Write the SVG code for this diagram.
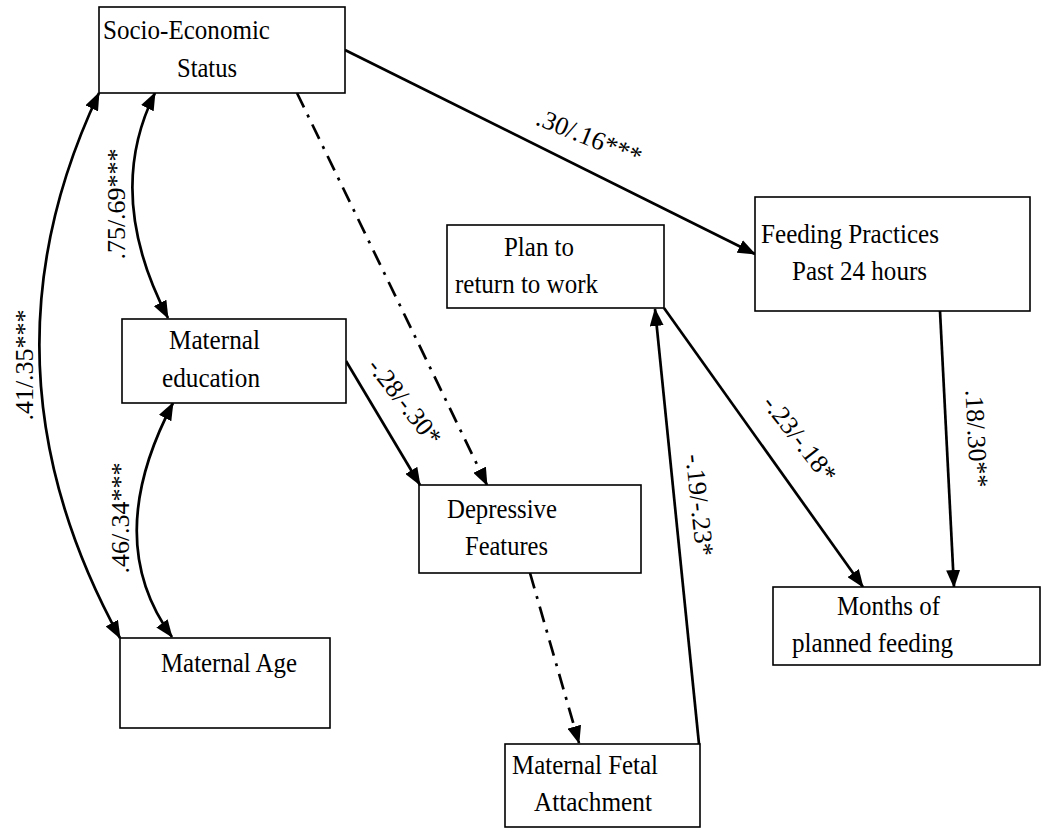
<svg xmlns="http://www.w3.org/2000/svg" width="1045" height="828" viewBox="0 0 1045 828">
<style>
.box{fill:#fff;stroke:#000;stroke-width:1.6}
.t{font-family:"Liberation Serif","Times New Roman",serif;font-size:27px;fill:#000}
.lbl{font-family:"Liberation Serif","Times New Roman",serif;font-size:26px;fill:#000}
.c{fill:none;stroke:#000;stroke-width:2.7}
.dd{stroke-dasharray:16 8 3 8}
</style>
<defs>
<marker id="ah" markerUnits="userSpaceOnUse" markerWidth="18" markerHeight="14" viewBox="0 0 18 14" refX="17" refY="7" orient="auto-start-reverse">
<path d="M0,0 L18,7 L0,14 z" fill="#000"/>
</marker>
</defs>
<rect width="1045" height="828" fill="#fff"/>
<g id="connectors">
<path class="c" d="M99,93 Q-30,365 120,638" marker-start="url(#ah)" marker-end="url(#ah)"/>
<path class="c" d="M155,93 Q104,195 168,318" marker-start="url(#ah)" marker-end="url(#ah)"/>
<path class="c" d="M173,403 Q101,540 172,637" marker-start="url(#ah)" marker-end="url(#ah)"/>
<path class="c" d="M345,50 L755,254" marker-end="url(#ah)"/>
<path class="c dd" d="M297,93 L487,485" marker-end="url(#ah)"/>
<path class="c" d="M346,361 L420,485" marker-end="url(#ah)"/>
<path class="c dd" d="M530,573 L579,743" marker-end="url(#ah)"/>
<path class="c" d="M699,744 L655,309" marker-end="url(#ah)"/>
<path class="c" d="M664,308 L863,587" marker-end="url(#ah)"/>
<path class="c" d="M940,311 L954,587" marker-end="url(#ah)"/>
<text class="lbl" text-anchor="middle" transform="translate(33,365) rotate(-90)">.41/.35***</text>
<text class="lbl" text-anchor="middle" transform="translate(125,204) rotate(-90)">.75/.69***</text>
<text class="lbl" text-anchor="middle" transform="translate(129,518) rotate(-90)">.46/.34***</text>
<text class="lbl" text-anchor="middle" transform="translate(586,145) rotate(22)">.30/.16***</text>
<text class="lbl" text-anchor="middle" transform="translate(398,407) rotate(52)">-.28/-.30*</text>
<text class="lbl" text-anchor="middle" transform="translate(793,444) rotate(52)">-.23/-.18*</text>
<text class="lbl" text-anchor="middle" transform="translate(968,439) rotate(87)">.18/.30**</text>
<text class="lbl" text-anchor="middle" transform="translate(691,506) rotate(84)">-.19/-.23*</text>
</g>
<g id="ses">
<rect class="box" x="99" y="7" width="246" height="86"/>
<text class="t" x="103" y="39" textLength="167" lengthAdjust="spacingAndGlyphs">Socio-Economic</text>
<text class="t" x="177" y="77" textLength="60" lengthAdjust="spacingAndGlyphs">Status</text>
</g>
<g id="feeding">
<rect class="box" x="755" y="197" width="275" height="114"/>
<text class="t" x="761" y="243" textLength="178" lengthAdjust="spacingAndGlyphs">Feeding Practices</text>
<text class="t" x="792" y="280" textLength="135" lengthAdjust="spacingAndGlyphs">Past 24 hours</text>
</g>
<g id="plan">
<rect class="box" x="447" y="225" width="217" height="83"/>
<text class="t" x="504" y="256" textLength="70" lengthAdjust="spacingAndGlyphs">Plan to</text>
<text class="t" x="455" y="293" textLength="143" lengthAdjust="spacingAndGlyphs">return to work</text>
</g>
<g id="education">
<rect class="box" x="122" y="319" width="224" height="84"/>
<text class="t" x="169" y="349" textLength="91" lengthAdjust="spacingAndGlyphs">Maternal</text>
<text class="t" x="162" y="387" textLength="98" lengthAdjust="spacingAndGlyphs">education</text>
</g>
<g id="depressive">
<rect class="box" x="419" y="485" width="222" height="88"/>
<text class="t" x="447" y="518" textLength="110" lengthAdjust="spacingAndGlyphs">Depressive</text>
<text class="t" x="465" y="555" textLength="83" lengthAdjust="spacingAndGlyphs">Features</text>
</g>
<g id="age">
<rect class="box" x="120" y="638" width="210" height="90"/>
<text class="t" x="161" y="672" textLength="136" lengthAdjust="spacingAndGlyphs">Maternal Age</text>
</g>
<g id="months">
<rect class="box" x="773" y="587" width="267" height="78"/>
<text class="t" x="837" y="615" textLength="103" lengthAdjust="spacingAndGlyphs">Months of</text>
<text class="t" x="792" y="652" textLength="161" lengthAdjust="spacingAndGlyphs">planned feeding</text>
</g>
<g id="attachment">
<rect class="box" x="505" y="744" width="195" height="83"/>
<text class="t" x="512" y="774" textLength="146" lengthAdjust="spacingAndGlyphs">Maternal Fetal</text>
<text class="t" x="534" y="811" textLength="118" lengthAdjust="spacingAndGlyphs">Attachment</text>
</g>
</svg>
